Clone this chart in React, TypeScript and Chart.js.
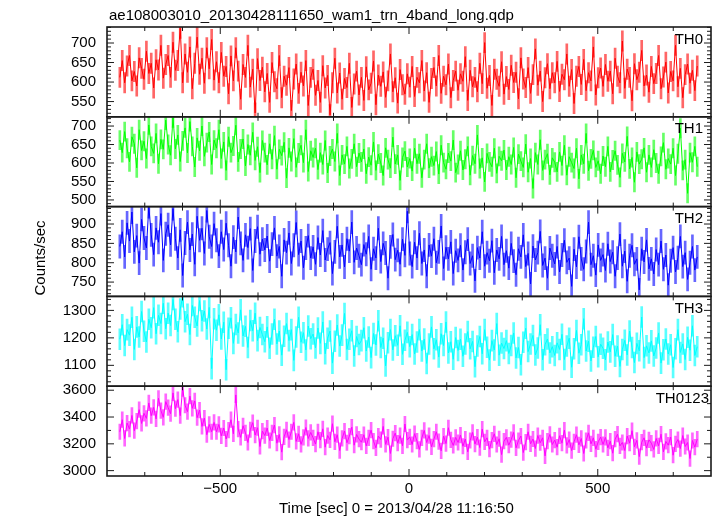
import React, { useEffect, useRef } from "react";
import { Chart, registerables } from "chart.js";

Chart.register(...registerables);

const TITLE = "ae108003010_20130428111650_wam1_trn_4band_long.qdp";
const X_TITLE = "Time [sec] 0 = 2013/04/28 11:16:50";
const Y_TITLE = "Counts/sec";
const PANEL_NAMES = ["TH0", "TH1", "TH2", "TH3", "TH0123"];
const COLORS = ["#ff0000", "#00ff00", "#0000ff", "#00ffff", "#ff00ff"];
const ERR_COLORS = [
  "rgba(255,0,0,0.6)",
  "rgba(0,255,0,0.6)",
  "rgba(0,0,255,0.6)",
  "rgba(0,255,255,0.65)",
  "rgba(255,0,255,0.6)",
];

const T_START = -766;
const T_STEP = 6.4;
const X_MIN = -800;
const X_MAX = 800;
const X_TICKS = [-500, 0, 500];
const X_MINOR_STEP = 100;

const Y_MIN = [511, 482, 713, 1024, 2960];
const Y_MAX = [741, 725, 945, 1351, 3630];
const Y_TICKS = [
  [550, 600, 650, 700],
  [500, 550, 600, 650, 700],
  [750, 800, 850, 900],
  [1100, 1200, 1300],
  [3000, 3200, 3400, 3600],
];
const Y_MINOR_STEP = [10, 10, 10, 20, 100];

// 1-sigma error of each rate bin, per panel (counts/sec)
const Y_ERR = [26, 26, 30, 38, 58];

const TH0 = [
  612, 655, 598, 641, 668, 603, 627, 590, 662, 635, 607, 679, 622, 648, 585, 657, 631, 694, 610, 645,
  668, 612, 702, 630, 655, 738, 598, 672, 625, 690, 583, 648, 715, 620, 661, 597, 688, 634, 709, 605,
  652, 598, 676, 615, 640, 570, 667, 603, 688, 628, 556, 645, 612, 694, 587, 633, 521, 660, 604, 638,
  575, 622, 548, 650, 601, 583, 668, 560, 615, 592, 637, 527, 608, 646, 571, 625, 590, 655, 540, 612,
  633, 566, 604, 548, 642, 585, 617, 516, 598, 661, 572, 623, 556, 609, 586, 648, 535, 595, 628, 567,
  612, 553, 639, 580, 597, 654, 542, 618, 589, 626, 561, 603, 672, 575, 611, 546, 632, 593, 569, 621,
  587, 640, 563, 612, 598, 655, 577, 624, 548, 609, 637, 590, 668, 571, 615, 593, 646, 560, 604, 628,
  579, 621, 602, 665, 553, 630, 588, 612, 575, 648, 596, 701, 584, 617, 540, 633, 607, 589, 652, 569,
  614, 581, 643, 599, 625, 557, 662, 608, 586, 637, 571, 619, 685, 592, 628, 550, 611, 647, 583, 624,
  598, 653, 576, 620, 606, 672, 589, 632, 545, 615, 640, 594, 658, 578, 624, 603, 690, 567, 611, 636,
  589, 645, 602, 628, 570, 661, 615, 598, 705, 584, 633, 612, 552, 647, 606, 625, 681, 590, 618, 574,
  640, 596, 622, 668, 583, 613, 651, 572, 627, 603, 694, 588, 635, 560, 619, 646, 597, 630, 578, 641,
];

const TH1 = [
  662, 628, 685, 640, 603, 671, 652, 587, 690, 634, 659, 612, 703, 645, 626, 680, 598, 664, 637, 716,
  650, 621, 722, 638, 676, 604, 660, 695, 627, 712, 645, 589, 668, 633, 700, 618, 655, 684, 596, 662,
  640, 690, 612, 657, 580, 671, 628, 646, 702, 603, 638, 665, 592, 650, 621, 683, 607, 644, 574, 661,
  628, 595, 652, 610, 674, 583, 637, 620, 656, 559, 641, 604, 666, 588, 627, 648, 601, 690, 577, 633,
  615, 640, 582, 628, 596, 661, 573, 619, 638, 604, 680, 566, 622, 597, 645, 585, 611, 652, 590, 627,
  603, 638, 571, 616, 594, 657, 580, 624, 600, 566, 641, 609, 586, 670, 597, 622, 553, 615, 632, 589,
  612, 578, 640, 598, 625, 560, 609, 652, 586, 617, 593, 631, 570, 648, 601, 583, 627, 605, 662, 574,
  596, 633, 581, 610, 645, 567, 620, 598, 676, 585, 614, 549, 626, 603, 590, 640, 572, 618, 606, 635,
  581, 617, 596, 642, 560, 624, 605, 588, 651, 575, 612, 531, 628, 596, 663, 580, 609, 625, 568, 614,
  602, 576, 630, 593, 648, 567, 617, 601, 585, 640, 557, 622, 598, 680, 579, 611, 634, 588, 606, 571,
  619, 590, 645, 576, 608, 633, 595, 561, 626, 603, 672, 584, 615, 548, 630, 597, 610, 641, 575, 622,
  588, 636, 600, 571, 618, 655, 583, 612, 597, 640, 566, 625, 694, 580, 609, 518, 628, 602, 645, 590,
];

const TH2 = [
  842, 880, 815, 903, 856, 931, 828, 870, 799, 912, 864, 838, 945, 872, 821, 890, 853, 927, 806, 875,
  898, 846, 940, 862, 812, 885, 767, 851, 905, 833, 874, 796, 920, 858, 889, 824, 935, 867, 842, 901,
  858, 817, 880, 834, 902, 845, 791, 866, 828, 918, 850, 806, 872, 839, 888, 780, 856, 893, 822, 861,
  833, 869, 804, 848, 890, 817, 842, 765, 859, 826, 877, 798, 845, 904, 821, 856, 787, 838, 870, 812,
  841, 796, 865, 820, 883, 807, 835, 852, 772, 828, 894, 815, 846, 789, 862, 830, 905, 801, 838, 818,
  795, 847, 822, 868, 783, 836, 812, 889, 803, 850, 825, 760, 841, 873, 808, 832, 796, 861, 819, 933,
  824, 790, 853, 812, 876, 798, 833, 765, 846, 817, 862, 800, 828, 895, 785, 840, 810, 854, 772, 831,
  806, 845, 781, 827, 861, 798, 818, 753, 839, 812, 880, 791, 826, 805, 857, 774, 833, 810, 868, 795,
  831, 786, 850, 804, 769, 836, 815, 872, 790, 824, 745, 843, 807, 826, 881, 793, 812, 760, 838, 818,
  797, 842, 776, 820, 858, 801, 812, 739, 835, 789, 867, 810, 783, 829, 905, 795, 818, 768, 846, 806,
  821, 780, 849, 803, 827, 765, 812, 874, 791, 830, 752, 818, 845, 796, 810, 730, 836, 802, 859, 784,
  810, 771, 834, 795, 856, 783, 820, 742, 805, 839, 776, 813, 868, 790, 826, 757, 800, 842, 781, 815,
];

const TH3 = [
  1195, 1248, 1172, 1230, 1210, 1275, 1158, 1240, 1203, 1296, 1224, 1185, 1268, 1237, 1310, 1215, 1282, 1252, 1326, 1233,
  1290, 1245, 1340, 1268, 1222, 1305, 1350, 1259, 1286, 1212, 1318, 1275, 1243, 1336, 1262, 1298, 1232, 1311, 1088, 1270,
  1228, 1284, 1196, 1257, 1084, 1235, 1273, 1180, 1249, 1218, 1302, 1207, 1242, 1165, 1263, 1226, 1290, 1190, 1238, 1212,
  1186, 1240, 1162, 1214, 1268, 1178, 1225, 1137, 1206, 1252, 1190, 1230, 1118, 1203, 1275, 1184, 1219, 1156, 1243, 1197,
  1214, 1163, 1236, 1180, 1258, 1142, 1199, 1225, 1108, 1188, 1247, 1170, 1210, 1289, 1158, 1195, 1226, 1134, 1205, 1176,
  1190, 1237, 1152, 1203, 1128, 1216, 1174, 1262, 1165, 1199, 1098, 1182, 1230, 1156, 1208, 1173, 1244, 1140, 1191, 1220,
  1168, 1212, 1141, 1185, 1230, 1152, 1196, 1107, 1178, 1240, 1160, 1193, 1130, 1215, 1172, 1258, 1145, 1186, 1122, 1201,
  1154, 1195, 1133, 1178, 1223, 1160, 1187, 1095, 1170, 1205, 1142, 1230, 1166, 1119, 1190, 1156, 1252, 1137, 1181, 1161,
  1190, 1143, 1172, 1218, 1127, 1165, 1102, 1184, 1235, 1150, 1178, 1209, 1138, 1163, 1248, 1120, 1175, 1196, 1145, 1168,
  1136, 1182, 1158, 1213, 1121, 1170, 1199, 1093, 1160, 1227, 1144, 1175, 1270, 1152, 1188, 1116, 1166, 1205, 1131, 1177,
  1162, 1120, 1185, 1149, 1212, 1133, 1170, 1096, 1158, 1191, 1138, 1225, 1165, 1110, 1180, 1153, 1276, 1128, 1171, 1145,
  1189, 1134, 1163, 1218, 1108, 1157, 1196, 1141, 1175, 1092, 1160, 1230, 1147, 1178, 1121, 1202, 1155, 1244, 1136, 1168,
];

const TH0123 = [
  3290, 3380, 3240, 3355, 3310, 3412, 3298, 3370, 3455, 3352, 3428, 3390, 3505, 3410, 3472, 3386, 3540, 3448, 3398, 3515,
  3470, 3425, 3580, 3462, 3530, 3410, 3612, 3488, 3440, 3556, 3465, 3520, 3395, 3452, 3330, 3392, 3268, 3345, 3290, 3360,
  3290, 3345, 3260, 3318, 3236, 3302, 3380, 3275, 3565, 3310, 3248, 3335, 3282, 3210, 3305, 3358, 3265, 3320, 3180, 3295,
  3262, 3318, 3225, 3281, 3340, 3205, 3270, 3138, 3252, 3305, 3232, 3290, 3360, 3218, 3275, 3196, 3248, 3322, 3240, 3285,
  3245, 3198, 3290, 3228, 3312, 3175, 3262, 3230, 3350, 3215, 3268, 3150, 3240, 3295, 3208, 3258, 3325, 3190, 3270, 3235,
  3212, 3268, 3185, 3245, 3302, 3220, 3170, 3258, 3232, 3330, 3196, 3250, 3128, 3238, 3280, 3205, 3262, 3185, 3348, 3228,
  3252, 3195, 3276, 3220, 3158, 3245, 3300, 3210, 3262, 3178, 3235, 3290, 3216, 3148, 3258, 3202, 3320, 3230, 3188, 3248,
  3210, 3265, 3182, 3236, 3140, 3225, 3285, 3198, 3250, 3172, 3310, 3215, 3245, 3160, 3228, 3275, 3195, 3238, 3120, 3220,
  3248, 3190, 3232, 3285, 3170, 3225, 3258, 3135, 3212, 3290, 3200, 3236, 3165, 3262, 3208, 3245, 3110, 3220, 3270, 3195,
  3228, 3175, 3260, 3205, 3302, 3188, 3232, 3150, 3215, 3268, 3192, 3240, 3128, 3225, 3282, 3200, 3245, 3160, 3215, 3250,
  3195, 3248, 3170, 3220, 3130, 3235, 3272, 3185, 3210, 3150, 3258, 3205, 3298, 3178, 3226, 3105, 3212, 3245, 3168, 3230,
  3205, 3158, 3240, 3185, 3272, 3140, 3218, 3190, 3250, 3115, 3200, 3232, 3165, 3262, 3180, 3210, 3090, 3225, 3175, 3235,
];

const SERIES = [TH0, TH1, TH2, TH3, TH0123];

const FONT_FAMILY = '"Liberation Sans", Arial, Helvetica, sans-serif';
const FONT = `15px ${FONT_FAMILY}`;
const FRAME_COLOR = "#1a1a1a";

function fmt(v: number): string {
  return v < 0 ? "\u2212" + Math.abs(v) : String(v);
}

const decorPlugin = {
  id: "decor",
  beforeDatasetDraw(chart: any, args: any) {
    const meta = chart.getDatasetMeta(args.index);
    const ys = chart.scales[meta.yAxisID];
    const { left, right } = chart.chartArea;
    const ctx = chart.ctx;
    ctx.save();
    ctx.beginPath();
    ctx.rect(left, ys.top, right - left, ys.bottom - ys.top);
    ctx.clip();
  },
  afterDatasetDraw(chart: any) {
    chart.ctx.restore();
  },
  afterDraw(chart: any) {
    const ctx = chart.ctx;
    const { left, right } = chart.chartArea;
    const xs = chart.scales.x;
    ctx.save();
    ctx.strokeStyle = FRAME_COLOR;
    ctx.lineCap = "butt";
    const seg = (x1: number, y1: number, x2: number, y2: number) => {
      ctx.beginPath();
      ctx.moveTo(x1, y1);
      ctx.lineTo(x2, y2);
      ctx.stroke();
    };
    for (let k = 0; k < 5; k++) {
      const ys = chart.scales["y" + k];
      ctx.lineWidth = 1;
      const step = Y_MINOR_STEP[k];
      for (let v = Math.ceil(Y_MIN[k] / step) * step; v <= Y_MAX[k]; v += step) {
        const py = ys.getPixelForValue(v);
        const len = Y_TICKS[k].includes(v) ? 7 : 4;
        seg(left, py, left + len, py);
        seg(right, py, right - len, py);
      }
      for (let v = X_MIN + X_MINOR_STEP; v < X_MAX; v += X_MINOR_STEP) {
        const px = xs.getPixelForValue(v);
        const len = X_TICKS.includes(v) ? 7 : 4;
        seg(px, ys.top, px, ys.top + len);
        seg(px, ys.bottom, px, ys.bottom - len);
      }
      ctx.lineWidth = 1.6;
      ctx.strokeRect(left, ys.top, right - left, ys.bottom - ys.top);
    }
    ctx.fillStyle = "#000";
    ctx.font = FONT;
    ctx.textBaseline = "alphabetic";
    ctx.textAlign = "left";
    ctx.fillText(TITLE, 109, 20);
    ctx.fillText(X_TITLE, 279, 513);
    ctx.textAlign = "right";
    for (let k = 0; k < 5; k++) {
      const ys = chart.scales["y" + k];
      const rx = k === 4 ? 709 : 703;
      ctx.fillText(PANEL_NAMES[k], rx, ys.top + 16.5);
    }
    ctx.save();
    ctx.translate(45, 258);
    ctx.rotate(-Math.PI / 2);
    ctx.textAlign = "center";
    ctx.fillText(Y_TITLE, 0, 0);
    ctx.restore();
    ctx.restore();
  },
};

export default function App() {
  const ref = useRef<HTMLCanvasElement>(null);
  useEffect(() => {
    const yScales: any = {};
    for (let k = 0; k < 5; k++) {
      const majors = Y_TICKS[k];
      yScales["y" + k] = {
        type: "linear",
        position: "left",
        stack: "panels",
        stackWeight: 1,
        weight: 5 - k,
        min: Y_MIN[k],
        max: Y_MAX[k],
        grid: { display: false, drawTicks: false },
        border: { display: false },
        ticks: {
          color: "#000",
          font: { family: FONT_FAMILY, size: 15 },
          padding: 11,
          autoSkip: false,
          callback: (v: any) => fmt(Number(v)),
        },
        afterBuildTicks: (s: any) => {
          s.ticks = majors.map((v) => ({ value: v }));
        },
        afterFit: (s: any) => {
          s.width = 107;
        },
      };
    }
    const errorSets: any[] = SERIES.map((arr, k) => ({
      type: "bar",
      label: PANEL_NAMES[k] + " err",
      data: arr.map((y, i) => ({ x: T_START + i * T_STEP, y: [y - Y_ERR[k], y + Y_ERR[k]] })),
      yAxisID: "y" + k,
      xAxisID: "x",
      backgroundColor: ERR_COLORS[k],
      borderWidth: 0,
      barThickness: 2,
      grouped: false,
      order: 1,
    }));
    const lineSets: any[] = SERIES.map((arr, k) => ({
      type: "line",
      label: PANEL_NAMES[k],
      data: arr.map((y, i) => ({ x: T_START + i * T_STEP, y })),
      yAxisID: "y" + k,
      xAxisID: "x",
      borderColor: COLORS[k],
      borderWidth: 1,
      pointRadius: 0,
      tension: 0,
      fill: false,
      order: 0,
    }));
    const chart = new Chart(ref.current as HTMLCanvasElement, {
      type: "line",
      data: { datasets: [...errorSets, ...lineSets] },
      options: {
        animation: false,
        responsive: false,
        devicePixelRatio: 1,
        events: [],
        layout: { padding: { left: 0, right: 6, top: 27, bottom: 0 } },
        plugins: {
          legend: { display: false },
          tooltip: { enabled: false },
          title: { display: false },
        },
        scales: {
          x: {
            type: "linear",
            position: "bottom",
            offset: false,
            min: X_MIN,
            max: X_MAX,
            grid: { display: false, drawTicks: false, offset: false },
            border: { display: false },
            ticks: {
              color: "#000",
              font: { family: FONT_FAMILY, size: 15 },
              padding: 4,
              autoSkip: false,
              maxRotation: 0,
              callback: (v: any) => fmt(Number(v)),
            },
            afterBuildTicks: (s: any) => {
              s.ticks = X_TICKS.map((v) => ({ value: v }));
            },
            afterFit: (s: any) => {
              s.height = 40;
            },
          },
          ...yScales,
        },
      },
      plugins: [decorPlugin],
    });
    return () => chart.destroy();
  }, []);
  return (
    <div style={{ position: "fixed", left: 0, top: 0, width: 717, height: 516, background: "#fff" }}>
      <canvas ref={ref} width={717} height={516} style={{ display: "block", width: 717, height: 516 }} />
    </div>
  );
}
